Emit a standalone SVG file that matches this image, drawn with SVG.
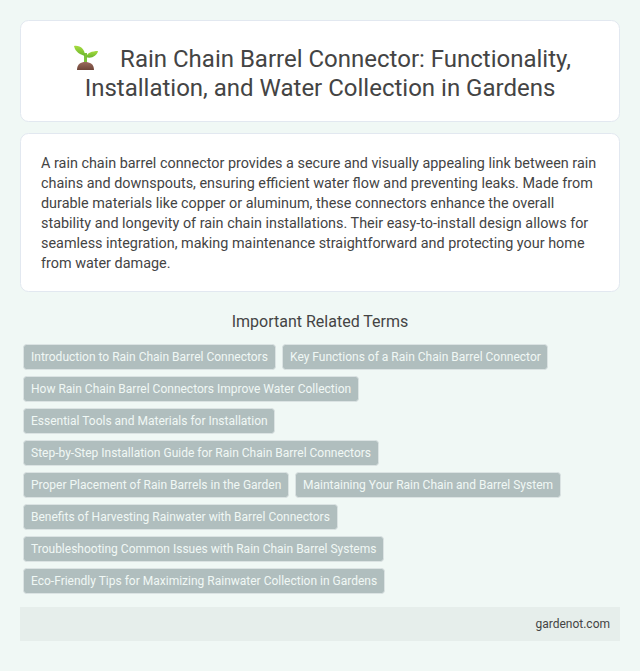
<svg xmlns="http://www.w3.org/2000/svg" width="640" height="671" viewBox="0 0 640 671">
<defs><linearGradient id="leaf" x1="0" y1="0" x2="0" y2="1"><stop offset="0" stop-color="#a6dc3e"/><stop offset="1" stop-color="#6cb52e"/></linearGradient><linearGradient id="soil" x1="0" y1="0" x2="0" y2="1"><stop offset="0" stop-color="#9a6a5c"/><stop offset="1" stop-color="#6d4438"/></linearGradient></defs>
<style>
text{font-family:Roboto,"Liberation Sans",sans-serif}
.card{fill:#fff;stroke:#e2e8f0;stroke-width:1}
.h{font-size:24px;fill:#444;text-anchor:middle}
.p{font-size:14.4px;fill:#444}
.c{font-size:12px;fill:#f0f8f5}
.t{fill:#b0bebe;stroke:#dbe3e3;stroke-width:1}
</style>
<rect width="640" height="671" fill="#f0f8f5"/>
<g id="title"><rect class="card" x="20.500" y="20.500" width="599" height="101" rx="8"/>
<g id="sprout"><path d="M87 53V65h-3V53z" fill="#7cc23a"/><path d="M85 56C81 55 75 52 74 46C80 45 85 49 85 56z" fill="url(#leaf)"/><path d="M86 57C87 53 92 51 98 51C97 56 91 59 86 57z" fill="url(#leaf)"/><path d="M77 70C77 64 81 62 85 62C90 62 94 64 94 70z" fill="url(#soil)"/></g>
<text class="h" x="345.500" y="67">Rain Chain Barrel Connector: Functionality,</text>
<text class="h" x="320" y="96">Installation, and Water Collection in Gardens</text></g>
<g id="intro"><rect class="card" x="20.500" y="133.500" width="599" height="158" rx="8"/>
<text class="p" x="41" y="168">A rain chain barrel connector provides a secure and visually appealing link between rain</text>
<text class="p" x="41" y="188">chains and downspouts, ensuring efficient water flow and preventing leaks. Made from</text>
<text class="p" x="41" y="208">durable materials like copper or aluminum, these connectors enhance the overall</text>
<text class="p" x="41" y="228">stability and longevity of rain chain installations. Their easy-to-install design allows for</text>
<text class="p" x="41" y="248">seamless integration, making maintenance straightforward and protecting your home</text>
<text class="p" x="41" y="268">from water damage.</text></g>
<text x="320" y="327" font-size="16" fill="#444" text-anchor="middle">Important Related Terms</text>
<g id="tag1"><rect class="t" x="23.500" y="344.500" width="252" height="25" rx="3"/><text class="c" x="31" y="361">Introduction to Rain Chain Barrel Connectors</text></g>
<g id="tag2"><rect class="t" x="282.500" y="344.500" width="265" height="25" rx="3"/><text class="c" x="290" y="361">Key Functions of a Rain Chain Barrel Connector</text></g>
<g id="tag3"><rect class="t" x="23.500" y="376.500" width="335" height="25" rx="3"/><text class="c" x="31" y="393">How Rain Chain Barrel Connectors Improve Water Collection</text></g>
<g id="tag4"><rect class="t" x="23.500" y="408.500" width="251" height="25" rx="3"/><text class="c" x="31" y="425">Essential Tools and Materials for Installation</text></g>
<g id="tag5"><rect class="t" x="23.500" y="440.500" width="355" height="25" rx="3"/><text class="c" x="31" y="457">Step-by-Step Installation Guide for Rain Chain Barrel Connectors</text></g>
<g id="tag6"><rect class="t" x="23.500" y="472.500" width="265" height="25" rx="3"/><text class="c" x="31" y="489">Proper Placement of Rain Barrels in the Garden</text></g>
<g id="tag7"><rect class="t" x="295.500" y="472.500" width="265" height="25" rx="3"/><text class="c" x="303" y="489">Maintaining Your Rain Chain and Barrel System</text></g>
<g id="tag8"><rect class="t" x="23.500" y="504.500" width="314" height="25" rx="3"/><text class="c" x="31" y="521">Benefits of Harvesting Rainwater with Barrel Connectors</text></g>
<g id="tag9"><rect class="t" x="23.500" y="536.500" width="360" height="25" rx="3"/><text class="c" x="31" y="553">Troubleshooting Common Issues with Rain Chain Barrel Systems</text></g>
<g id="tag10"><rect class="t" x="23.500" y="568.500" width="361" height="25" rx="3"/><text class="c" x="31" y="585">Eco-Friendly Tips for Maximizing Rainwater Collection in Gardens</text></g>
<g id="footer"><rect x="20" y="607" width="600" height="34" fill="#e6eeeb"/><text x="610" y="628" font-size="12" fill="#444" text-anchor="end">gardenot.com</text></g>
<g id="connectors"/>
</svg>
